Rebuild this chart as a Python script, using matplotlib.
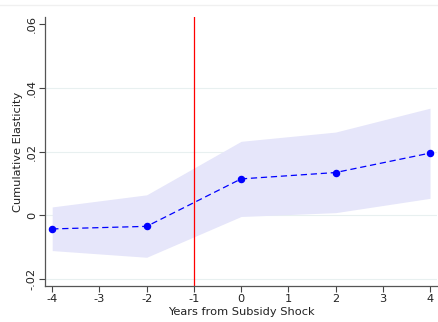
import numpy as np
import matplotlib
matplotlib.use("Agg")
import matplotlib.pyplot as plt
from matplotlib.lines import Line2D

# Event-study estimates
years = [-4, -2, 0, 2, 4]
coef = [-0.0043, -0.0035, 0.0114, 0.0134, 0.0195]
ci_low = [-0.0111, -0.0132, -0.0004, 0.0008, 0.0053]
ci_high = [0.0026, 0.0064, 0.0232, 0.0261, 0.0336]

xticks = [-4, -3, -2, -1, 0, 1, 2, 3, 4]
yticks = [-0.02, 0, 0.02, 0.04, 0.06]
ytick_labels = ["-.02", "0", ".02", ".04", ".06"]
shock_year = -1

fig = plt.figure(figsize=(4.38, 3.22), dpi=100)
ax = fig.add_axes([0.103, 0.112, 0.895, 0.835])

# faint border line at the top of the graph region
fig.add_artist(Line2D([0, 1], [1 - 5 / 322, 1 - 5 / 322], color="#f0f0f0", lw=1))

for y in yticks[:-1]:
    ax.axhline(y, color="#e8f0f0", lw=0.8, zorder=0)

ax.fill_between(years, ci_low, ci_high, color="#e6e6fa", lw=0, zorder=1)
ax.plot(years, coef, color="blue", ls=(0, (5, 3)), lw=0.9, marker="o",
        ms=4.4, zorder=3)
ax.axvline(shock_year, color="red", lw=0.9, zorder=2)

ax.set_xlim(-4.15, 4.15)
ax.set_ylim(-0.0222, 0.0622)
ax.set_xticks(xticks)
ax.set_xticklabels([str(x) for x in xticks])
ax.set_yticks(yticks)
ax.set_yticklabels(ytick_labels, rotation=90, va="center")

for side in ["top", "right"]:
    ax.spines[side].set_visible(False)
for side in ["left", "bottom"]:
    ax.spines[side].set_color("#555555")
    ax.spines[side].set_linewidth(0.9)

ax.tick_params(axis="both", direction="out", length=4, width=0.8,
               color="#444444", labelsize=8.2, labelcolor="#222222", pad=2)
ax.set_xlabel("Years from Subsidy Shock", fontsize=8.2, color="#222222", labelpad=2)
ax.set_ylabel("Cumulative Elasticity", fontsize=8.2, color="#222222", labelpad=3)

fig.savefig("out.png", dpi=100)
